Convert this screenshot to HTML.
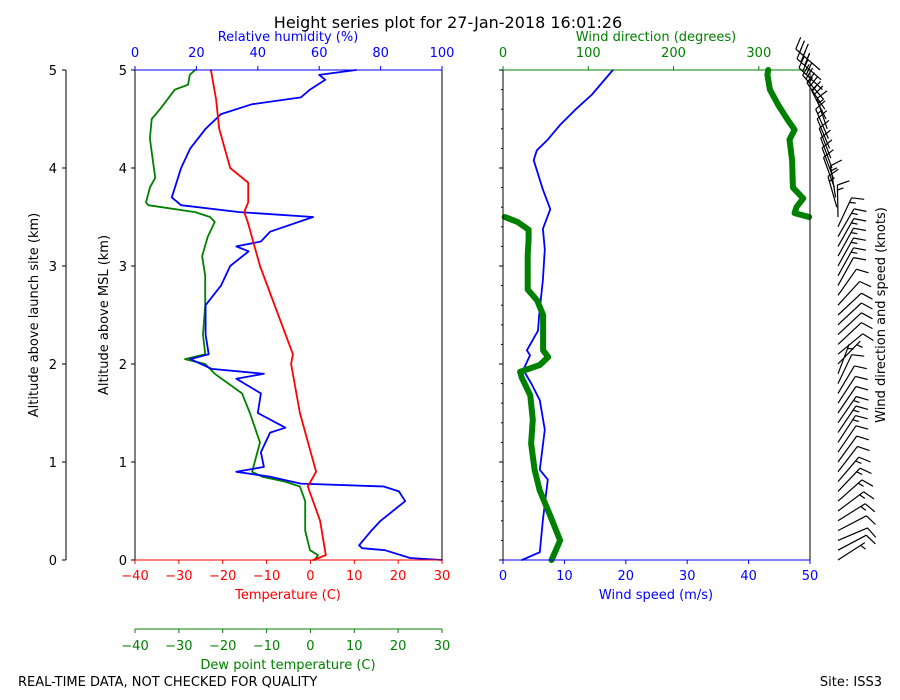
<!DOCTYPE html>
<html><head><meta charset="utf-8"><style>
body{margin:0;background:#fff}
svg{display:block;font-family:"DejaVu Sans","Liberation Sans",sans-serif;font-size:13px}
</style></head><body>
<svg id="chart" width="900" height="700" viewBox="0 0 900 700">
<text x="448" y="28" text-anchor="middle" font-size="16">Height series plot for 27-Jan-2018 16:01:26</text>
<text x="18" y="686">REAL-TIME DATA, NOT CHECKED FOR QUALITY</text>
<text x="882" y="686" text-anchor="end">Site: ISS3</text>
<g id="g"></g>
</svg>
<script>
// ---- data ----
const tAlt=[0,0.05,0.4,0.75,0.9,1.5,2.0,2.1,3.0,3.45,3.55,3.65,3.85,4.0,4.4,4.7,5.0];
const tVal=[0.6,3.5,2.2,-0.6,1.3,-2.4,-4.4,-4.0,-11.5,-14.3,-15.1,-14.2,-14.2,-18.3,-20.8,-21.5,-22.7];
const dAlt=[0,0.05,0.1,0.3,0.6,0.75,0.8,0.85,0.9,1.2,1.5,1.7,1.9,2.0,2.05,2.1,2.3,2.6,2.9,3.1,3.3,3.45,3.5,3.55,3.62,3.65,3.8,3.9,4.3,4.5,4.6,4.8,4.85,4.95,5.0];
const dVal=[1.0,1.7,-0.1,-1.2,-1.2,-2.4,-5.8,-11,-13.3,-11.5,-13.8,-15.6,-21.8,-24,-28.6,-24,-24.5,-24,-24,-24.7,-23.4,-21.8,-22.9,-26.3,-37,-37.5,-36.6,-35.4,-36.6,-36.2,-34.3,-30.9,-27.9,-27.5,-26.3];
const rAlt=[0,0.02,0.1,0.12,0.15,0.3,0.4,0.55,0.6,0.65,0.7,0.75,0.78,0.85,0.9,0.95,1.1,1.3,1.35,1.5,1.7,1.85,1.9,1.95,2.05,2.1,2.3,2.6,2.8,3.0,3.15,3.2,3.25,3.35,3.5,3.55,3.62,3.7,3.9,4.0,4.2,4.4,4.55,4.65,4.72,4.8,4.9,4.95,5.0];
const rVal=[100,89.6,81.4,74,73,77,80,86,88,87,86,81,54,44,33,42,41,44,49,40,41,33,42,25,18,24,23,23,28,31,37,33,41,44,58,34,15,12,14,15,18,23,28,38,54,57,62,60,72];
const sAlt=[0,0.08,0.41,0.82,0.92,1.33,1.63,1.79,1.94,2.09,2.14,2.34,2.5,2.86,3.17,3.38,3.58,3.78,4.08,4.18,4.29,4.44,4.59,4.75,5.0];
const sVal=[3.1,6.0,6.5,7.3,6.0,6.8,6.0,4.7,3.3,4.4,3.9,5.7,5.9,6.5,6.8,6.5,7.7,6.5,5.0,5.5,7.3,9.3,11.7,14.5,17.9];
const wAlt=[0,0.2,0.46,0.71,0.92,1.19,1.43,1.68,1.86,1.92,1.99,2.07,2.14,2.5,2.65,2.76,2.91,3.11,3.27,3.37,3.45,3.5,3.5,3.54,3.6,3.69,3.8,4.08,4.29,4.39,4.49,4.64,4.8,4.95,5.0];
const wVal=[57,67,55,43,37,33,35,32,22,20,43,53,47,47,40,29,29,29,30,30,17,2,359,342,344,352,340,339,336,342,334,323,313,310,311];
const tempTicks=[-40,-30,-20,-10,0,10,20,30];
const rhTicks=[0,20,40,60,80,100];
const dirTicks=[0,100,200,300];
const spdTicks=[0,10,20,30,40,50];
const altTicks=[0,1,2,3,4,5];
// ---- scales ----
const L0=135,L1=442,R0=503,R1=810,Y0=560,Y1=70;
const yA=a=>Y0+(Y1-Y0)*a/5;
const xT=t=>L0+(L1-L0)*(t+40)/70;
const xRH=r=>L0+(L1-L0)*r/100;
const xS=s=>R0+(R1-R0)*s/50;
const xD=d=>R0+(R1-R0)*d/360;
const NS='http://www.w3.org/2000/svg';
const g=document.getElementById('g');
function mk(tag,attrs,parent){const e=document.createElementNS(NS,tag);for(const k in attrs)e.setAttribute(k,attrs[k]);(parent||g).appendChild(e);return e;}
function line(x1,y1,x2,y2,c,w){return mk('line',{x1,y1,x2,y2,stroke:c,'stroke-width':w||1});}
function txt(x,y,s,c,anchor,rot){const e=mk('text',{x,y,fill:c||'#000','text-anchor':anchor||'middle'});if(rot)e.setAttribute('transform','rotate(-90 '+x+' '+y+')');e.textContent=s;return e;}
function path(xs,ys,fx,c,w,name){let d='';for(let i=0;i<xs.length;i++){d+=(i?'L':'M')+fx(ys[i]).toFixed(1)+' '+yA(xs[i]).toFixed(1);}const p=mk('path',{d,fill:'none',stroke:c,'stroke-width':w,'stroke-linejoin':'round','stroke-linecap':'round'});return p;}
// series (left)
let p;
p=path(dAlt,dVal,xT,'#008000',1.8);


p=path(rAlt,rVal,xRH,'#0000ff',1.8);


p=path(tAlt,tVal,xT,'#ff0000',1.8);


// series (right)
p=path(sAlt,sVal,xS,'#0000ff',1.8);


// wind direction split at wrap
let seg=[[[],[]]];
for(let i=0;i<wAlt.length;i++){if(i&&Math.abs(wVal[i]-wVal[i-1])>180)seg.push([[],[]]);seg[seg.length-1][0].push(wAlt[i]);seg[seg.length-1][1].push(wVal[i]);}
seg.forEach(s=>{const q=path(s[0],s[1],xD,'#008000',6);

});
// spines left panel
line(L0,Y1,L0,Y0,'#000');line(L1,Y1,L1,Y0,'#000');
line(L0,Y1,L1,Y1,'#0000ff');line(L0,Y0,L1,Y0,'#ff0000');
line(R0,Y1,R0,Y0,'#000');line(R1,Y1,R1,Y0,'#000');
line(R0,Y1,R1,Y1,'#008000');line(R0,Y0,R1,Y0,'#0000ff');
// dew axis
line(L0,629,L1,629,'#008000');
// outer axis
line(66,Y1,66,Y0,'#000');
altTicks.forEach(a=>{const y=yA(a);
line(L0-4,y,L0,y,'#000');txt(L0-8,y+5,String(a),'#000','end');
line(62,y,66,y,'#000');txt(57,y+5,String(a),'#000','end');
line(R0-4,y,R0,y,'#000');});
for(let a=0;a<=5.001;a+=0.2){line(R0-2,yA(a),R0,yA(a),'#000');}
tempTicks.forEach(t=>{const x=xT(t);line(x,Y0,x,Y0+4,'#ff0000');txt(x,580,t<0?'\u2212'+(-t):String(t),'#ff0000');
line(x,629,x,633,'#008000');txt(x,650,t<0?'\u2212'+(-t):String(t),'#008000');});
rhTicks.forEach(r=>{const x=xRH(r);line(x,Y1-4,x,Y1,'#0000ff');txt(x,57,String(r),'#0000ff');});
dirTicks.forEach(d=>{const x=xD(d);line(x,Y1-4,x,Y1,'#008000');txt(x,57,String(d),'#008000');});
spdTicks.forEach(s=>{const x=xS(s);line(x,Y0,x,Y0+4,'#0000ff');txt(x,580,String(s),'#0000ff');});
// axis titles
txt(288,41,'Relative humidity (%)','#0000ff');
txt(656,41,'Wind direction (degrees)','#008000');
txt(288,599,'Temperature (C)','#ff0000');
txt(656,599,'Wind speed (m/s)','#0000ff');
txt(288,669,'Dew point temperature (C)','#008000');
txt(108,315,'Altitude above MSL (km)','#000','middle',true);
txt(38,315,'Altitude above launch site (km)','#000','middle',true);
txt(885,315,'Wind direction and speed (knots)','#000','middle',true);
// barbs
function interp(xs,ys,a){for(let i=1;i<xs.length;i++){if(a<=xs[i]){const f=(a-xs[i-1])/((xs[i]-xs[i-1])||1);return ys[i-1]+f*(ys[i]-ys[i-1]);}}return ys[ys.length-1];}
function interpDir(a){for(let i=1;i<wAlt.length;i++){if(a<=wAlt[i]){if(Math.abs(wVal[i]-wVal[i-1])>180)return wVal[i];const f=(a-wAlt[i-1])/((wAlt[i]-wAlt[i-1])||1);return wVal[i-1]+f*(wVal[i]-wVal[i-1]);}}return wVal[wVal.length-1];}
const bg=mk('g',{stroke:'#000','stroke-width':1.2,fill:'none'});
for(let a=0;a<=5.0001;a+=0.1){
 const d=interpDir(a)*Math.PI/180,kt=Math.round(interp(sAlt,sVal,a)*1.944/5)*5;
 const bx=838+ (a<3.5?0:-12*(a-3.5)),by=yA(a);
 const ux=Math.sin(d),uy=-Math.cos(d),Ln=32;
 const tx=bx+ux*Ln,ty=by+uy*Ln;
 let dd='M'+bx.toFixed(1)+' '+by.toFixed(1)+'L'+tx.toFixed(1)+' '+ty.toFixed(1);
 const px=-uy,py=ux; // perpendicular
 let k=kt,pos=0;
 while(k>=10){const sx=tx-ux*pos,sy=ty-uy*pos;dd+='M'+sx.toFixed(1)+' '+sy.toFixed(1)+'L'+(sx+px*12+ux*4).toFixed(1)+' '+(sy+py*12+uy*4).toFixed(1);k-=10;pos+=5;}
 if(k>=5){if(pos===0)pos=5;const sx=tx-ux*pos,sy=ty-uy*pos;dd+='M'+sx.toFixed(1)+' '+sy.toFixed(1)+'L'+(sx+px*6+ux*2).toFixed(1)+' '+(sy+py*6+uy*2).toFixed(1);}
 const b=mk('path',{d:dd},bg);
 
 
}
</script>
</body></html>
